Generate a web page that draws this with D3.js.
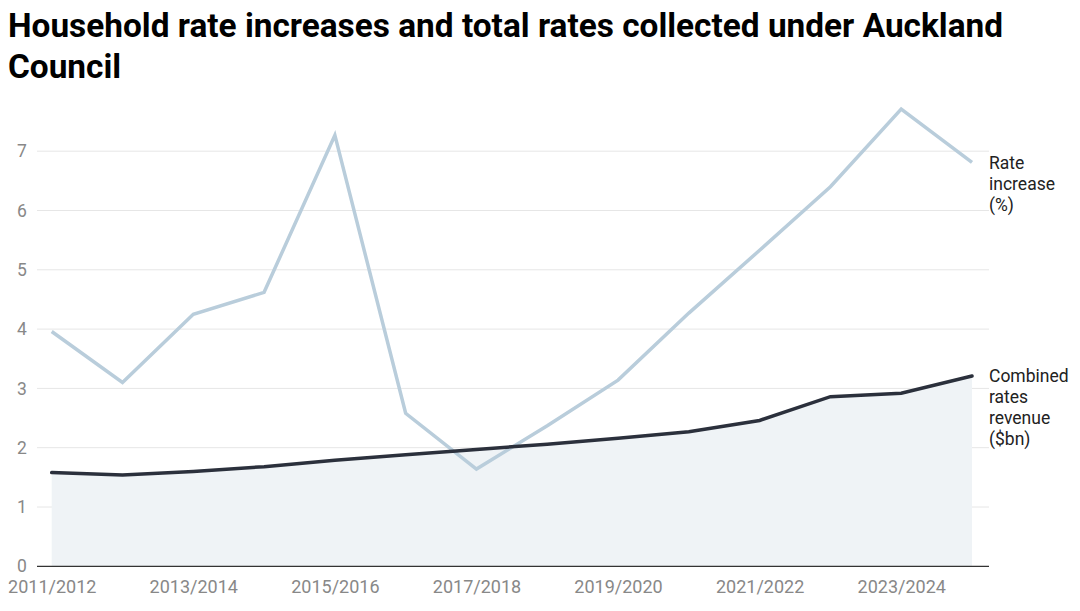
<!DOCTYPE html>
<html lang="en">
<head>
    <meta charset="UTF-8">
    <style>
        html, body { margin:0; height:100%; overflow:hidden; background:#fff; }
        svg { position:absolute; top:0; left:0; }
        text { font-family: Roboto, "Noto Sans", sans-serif; }
    </style>
    <script src="https://d3js.org/d3.v7.min.js"></script>
</head>
<body>
<svg width="1080" height="611"></svg>
<script>
    // data
    var years = ["2011/2012","2012/2013","2013/2014","2014/2015","2015/2016","2016/2017","2017/2018",
                 "2018/2019","2019/2020","2020/2021","2021/2022","2022/2023","2023/2024","2024/2025"];
    var rateIncrease = [3.96, 3.10, 4.25, 4.62, 7.27, 2.58, 1.64, 2.37, 3.14, 4.27, 5.33, 6.40, 7.71, 6.81];
    var combinedRevenue = [1.58, 1.54, 1.60, 1.68, 1.79, 1.88, 1.97, 2.06, 2.16, 2.27, 2.46, 2.86, 2.92, 3.21];
    var yTicks = [0, 1, 2, 3, 4, 5, 6, 7];
    var xTickLabels = ["2011/2012","2013/2014","2015/2016","2017/2018","2019/2020","2021/2022","2023/2024"];
    var titleLines = ["Household rate increases and total rates collected under Auckland", "Council"];
    var rateLabel = ["Rate", "increase", "(%)"];
    var revenueLabel = ["Combined", "rates", "revenue", "($bn)"];

    var svg = d3.select("svg");

    // title, squeezed a bit to the width of the original
    var title = svg.append("g").selectAll("text")
        .data(titleLines)
        .enter().append("text")
        .attr("x", 8)
        .attr("y", function(d, i) { return 37 + i * 41; })
        .attr("font-size", 32.5)
        .attr("font-weight", 700)
        .attr("fill", "#000")
        .text(function(d) { return d; });
    var squeeze = 995 / title.nodes()[0].getComputedTextLength();
    title.each(function() {
        var w = this.getComputedTextLength();
        d3.select(this).attr("textLength", w * squeeze).attr("lengthAdjust", "spacingAndGlyphs");
    });

    var x = d3.scalePoint().domain(years).range([51.7, 972]);
    var y = d3.scaleLinear().domain([0, 7]).range([566.3, 151.2]);
    var gridLeft = 37, gridRight = 989;

    // gridlines
    svg.append("g").selectAll("line")
        .data(yTicks.filter(function(d) { return d > 0; }))
        .enter().append("line")
        .attr("x1", gridLeft).attr("x2", gridRight)
        .attr("y1", function(d) { return y(d); })
        .attr("y2", function(d) { return y(d); })
        .attr("stroke", "#e6e6e6")
        .attr("stroke-width", 1);

    // y labels
    svg.append("g").selectAll("text")
        .data(yTicks)
        .enter().append("text")
        .attr("x", 17)
        .attr("y", function(d) { return y(d); })
        .attr("dy", "0.35em")
        .attr("font-size", 17.5)
        .attr("fill", "#888")
        .text(function(d) { return d; });

    // area under revenue
    var area = d3.area()
        .x(function(d, i) { return x(years[i]); })
        .y0(y(0))
        .y1(function(d) { return y(d); });

    svg.append("path")
        .datum(combinedRevenue)
        .attr("d", area)
        .attr("fill", "#eff3f6");

    // x axis
    var xAxis = svg.append("g")
        .attr("transform", "translate(0," + y(0) + ")")
        .call(d3.axisBottom(x).tickValues(xTickLabels).tickSize(0).tickPadding(14));
    xAxis.select(".domain").remove();
    xAxis.selectAll("text")
        .attr("font-size", 18)
        .attr("font-family", "Roboto, sans-serif")
        .attr("fill", "#888");
    svg.append("line")
        .attr("x1", gridLeft).attr("x2", gridRight)
        .attr("y1", y(0)).attr("y2", y(0))
        .attr("stroke", "#333")
        .attr("stroke-width", 1.3);

    var line = d3.line()
        .x(function(d, i) { return x(years[i]); })
        .y(function(d) { return y(d); });

    svg.append("path")
        .datum(rateIncrease)
        .attr("d", line)
        .attr("fill", "none")
        .attr("stroke", "#b9cddb")
        .attr("stroke-width", 3.5)
        .attr("stroke-linejoin", "miter");

    svg.append("path")
        .datum(combinedRevenue)
        .attr("d", line)
        .attr("fill", "none")
        .attr("stroke", "#2b303c")
        .attr("stroke-width", 3.5)
        .attr("stroke-linecap", "round");

    // series labels at line ends
    function endLabel(lines, value) {
        svg.append("g").selectAll("text")
            .data(lines)
            .enter().append("text")
            .attr("x", 989)
            .attr("y", function(d, i) { return y(value) + i * 21; })
            .attr("dy", "0.35em")
            .attr("font-size", 17.5)
            .attr("fill", "#222")
            .text(function(d) { return d; });
    }
    endLabel(rateLabel, rateIncrease[rateIncrease.length - 1]);
    endLabel(revenueLabel, combinedRevenue[combinedRevenue.length - 1]);
</script>
</body>
</html>
